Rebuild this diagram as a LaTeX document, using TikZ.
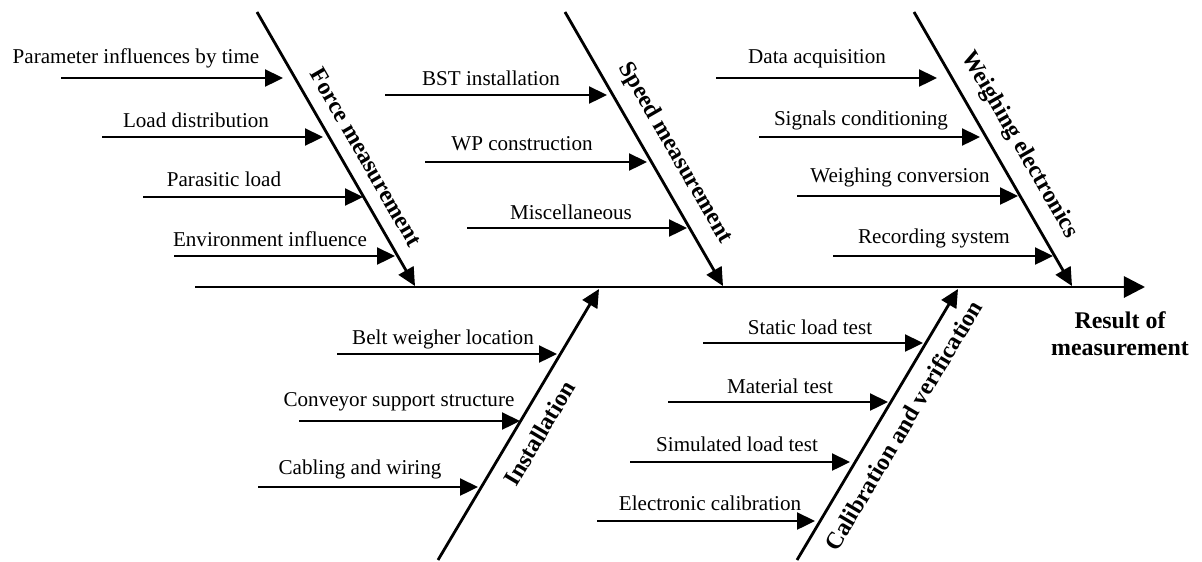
\documentclass[tikz,border=0pt]{standalone}
\usepackage{fontspec}
\setmainfont{Liberation Serif}
\usetikzlibrary{arrows.meta, positioning}

\begin{document}
\begin{tikzpicture}[
    x=0.025cm, y=-0.025cm,
    font=\fontsize{15}{18}\selectfont,
    bone/.style={line width=2pt, -{Triangle[length=12.8pt, width=12pt]}},
    spine/.style={line width=2pt, -{Triangle[length=15pt, width=15pt]}},
    cause/.style={inner sep=0pt},
    category/.style={font=\fontsize{17}{20}\selectfont\bfseries, inner sep=0pt},
    result/.style={font=\fontsize{17}{19.5}\selectfont\bfseries, align=center, inner sep=0pt}
]
    \useasboundingbox (0,0) rectangle (1202,561);

    % Spine
    \coordinate (tail) at (195,287);
    \coordinate (head) at (1145,287);
    \node[result] (result) at (1120,334) {Result of\\measurement};
    \draw[spine] (tail) -- (head);

    % Main bones
    \coordinate (force_top) at (257,12);
    \coordinate (force_tip) at (415,286);
    \coordinate (speed_top) at (565,12);
    \coordinate (speed_tip) at (723,286);
    \coordinate (weigh_top) at (914,12);
    \coordinate (weigh_tip) at (1072,286);
    \coordinate (inst_bot) at (438,560);
    \coordinate (inst_tip) at (599,289);
    \coordinate (calib_bot) at (797,560);
    \coordinate (calib_tip) at (958,289);

    \draw[bone] (force_top) -- (force_tip)
        node[category, pos=0.57, sloped, above=9pt] (force) {Force measurement};
    \draw[bone] (speed_top) -- (speed_tip)
        node[category, pos=0.56, sloped, above=9pt] (speed) {Speed measurement};
    \draw[bone] (weigh_top) -- (weigh_tip)
        node[category, pos=0.53, sloped, above=9pt] (weigh) {Weighing electronics};
    \draw[bone] (inst_bot) -- (inst_tip)
        node[category, pos=0.51, sloped, below=9pt] (inst) {Installation};
    \draw[bone] (calib_bot) -- (calib_tip)
        node[category, pos=0.54, sloped, below=9pt] (calib) {Calibration and verification};

    % Causes: force measurement
    \node[cause] (param) at (136,58) {Parameter influences by time};
    \node[cause] (loaddist) at (196,120) {Load distribution};
    \node[cause] (parasitic) at (224,179) {Parasitic load};
    \node[cause] (environ) at (270,239) {Environment influence};
    \coordinate (param_s) at (61,78);      \coordinate (param_e) at (283,78);
    \coordinate (loaddist_s) at (102,137); \coordinate (loaddist_e) at (323,137);
    \coordinate (parasitic_s) at (143,197); \coordinate (parasitic_e) at (363,197);
    \coordinate (environ_s) at (174,256);  \coordinate (environ_e) at (395,256);

    % Causes: speed measurement
    \node[cause] (bst) at (491,78) {BST installation};
    \node[cause] (wp) at (522,144) {WP construction};
    \node[cause] (misc) at (571,212) {Miscellaneous};
    \coordinate (bst_s) at (385,95);   \coordinate (bst_e) at (607,95);
    \coordinate (wp_s) at (425,162);   \coordinate (wp_e) at (647,162);
    \coordinate (misc_s) at (467,228); \coordinate (misc_e) at (687,228);

    % Causes: weighing electronics
    \node[cause] (daq) at (817,59) {Data acquisition};
    \node[cause] (signal) at (861,120) {Signals conditioning};
    \node[cause] (convert) at (900,177) {Weighing conversion};
    \node[cause] (record) at (934,238) {Recording system};
    \coordinate (daq_s) at (716,78);     \coordinate (daq_e) at (937,78);
    \coordinate (signal_s) at (759,137); \coordinate (signal_e) at (980,137);
    \coordinate (convert_s) at (797,196); \coordinate (convert_e) at (1018,196);
    \coordinate (record_s) at (833,256); \coordinate (record_e) at (1053,256);

    % Causes: installation
    \node[cause] (location) at (443,339) {Belt weigher location};
    \node[cause] (support) at (399,402) {Conveyor support structure};
    \node[cause] (cabling) at (360,469) {Cabling and wiring};
    \coordinate (location_s) at (337,354); \coordinate (location_e) at (557,354);
    \coordinate (support_s) at (299,421);  \coordinate (support_e) at (520,421);
    \coordinate (cabling_s) at (258,487);  \coordinate (cabling_e) at (478,487);

    % Causes: calibration and verification
    \node[cause] (static) at (810,327) {Static load test};
    \node[cause] (material) at (780,386) {Material test};
    \node[cause] (simulated) at (737,444) {Simulated load test};
    \node[cause] (electronic) at (710,503) {Electronic calibration};
    \coordinate (static_s) at (703,343);    \coordinate (static_e) at (923,343);
    \coordinate (material_s) at (668,402);  \coordinate (material_e) at (888,402);
    \coordinate (simulated_s) at (630,462); \coordinate (simulated_e) at (850,462);
    \coordinate (electronic_s) at (597,521); \coordinate (electronic_e) at (815,521);

    % Cause arrows
    \draw[bone] (param_s) -- (param_e);
    \draw[bone] (loaddist_s) -- (loaddist_e);
    \draw[bone] (parasitic_s) -- (parasitic_e);
    \draw[bone] (environ_s) -- (environ_e);
    \draw[bone] (bst_s) -- (bst_e);
    \draw[bone] (wp_s) -- (wp_e);
    \draw[bone] (misc_s) -- (misc_e);
    \draw[bone] (daq_s) -- (daq_e);
    \draw[bone] (signal_s) -- (signal_e);
    \draw[bone] (convert_s) -- (convert_e);
    \draw[bone] (record_s) -- (record_e);
    \draw[bone] (location_s) -- (location_e);
    \draw[bone] (support_s) -- (support_e);
    \draw[bone] (cabling_s) -- (cabling_e);
    \draw[bone] (static_s) -- (static_e);
    \draw[bone] (material_s) -- (material_e);
    \draw[bone] (simulated_s) -- (simulated_e);
    \draw[bone] (electronic_s) -- (electronic_e);

\end{tikzpicture}
\end{document}
